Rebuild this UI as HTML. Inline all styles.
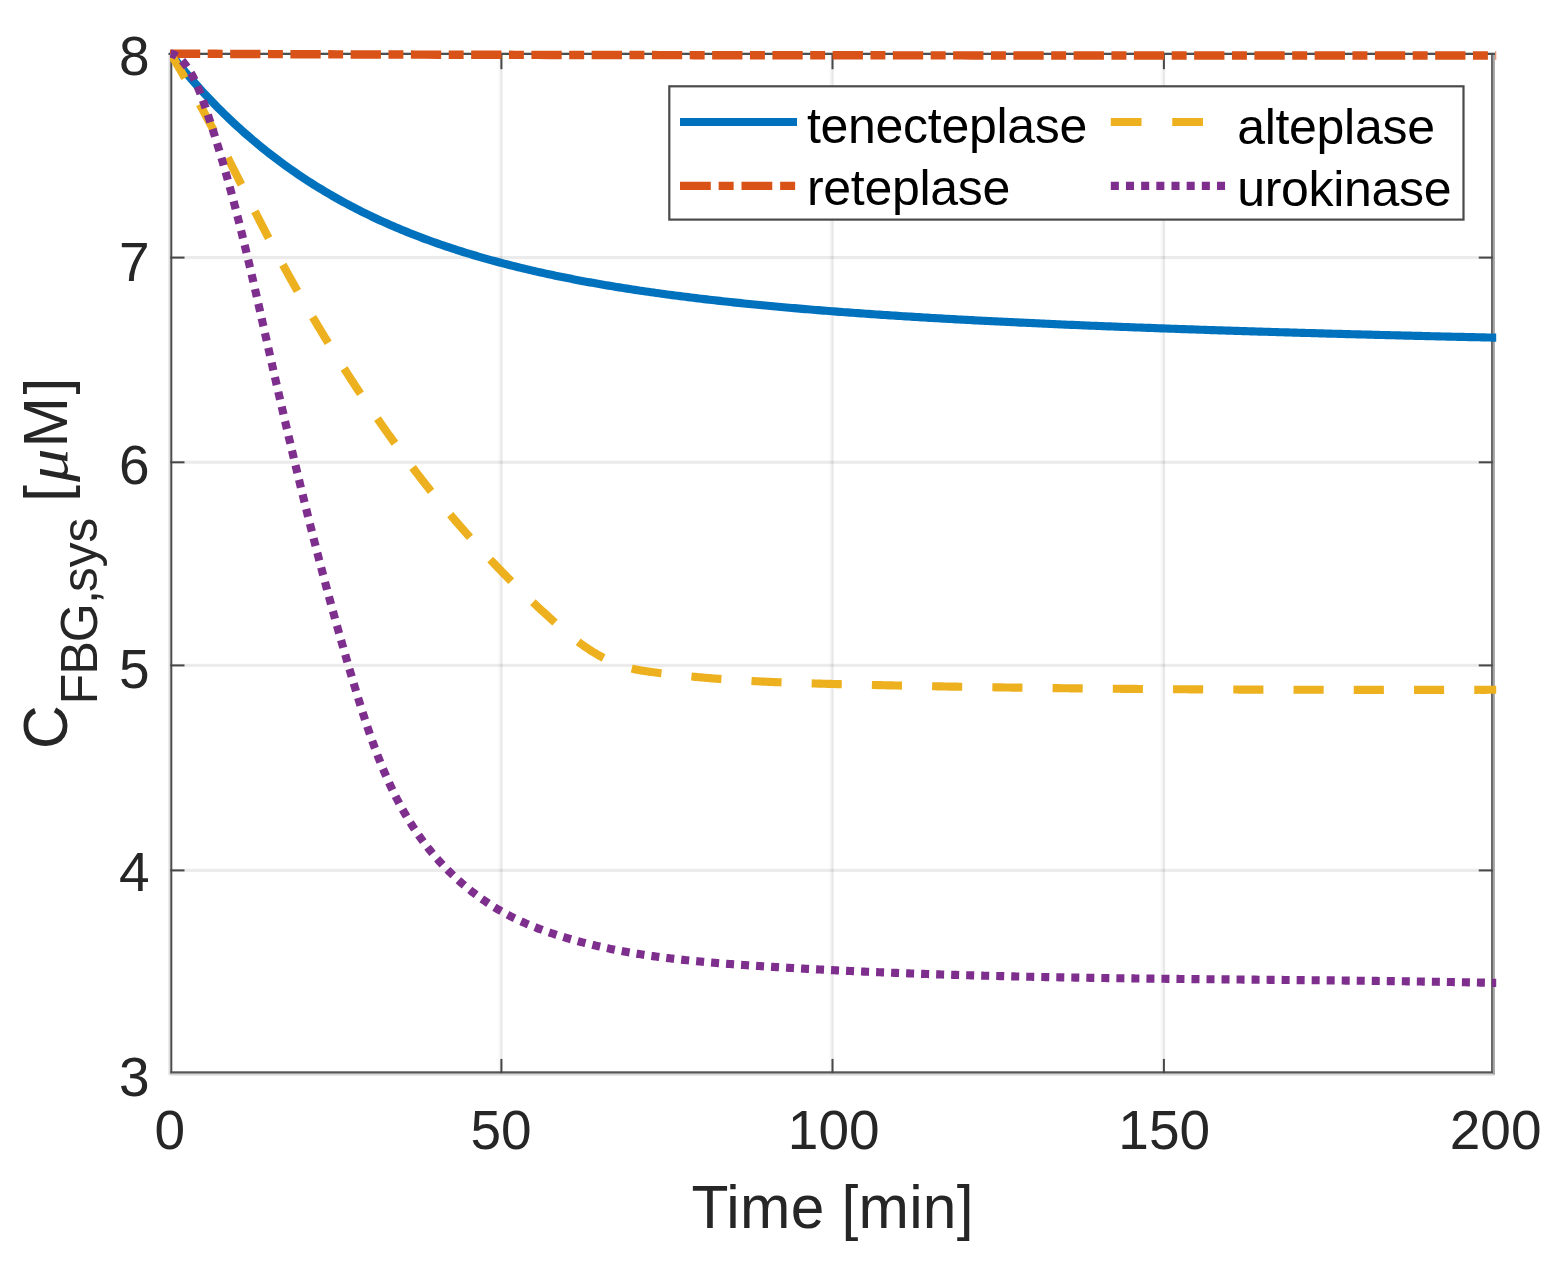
<!DOCTYPE html>
<html lang="en">
<head>
<meta charset="utf-8">
<title>Fibrinogen concentration</title>
<style>html,body{margin:0;padding:0;background:#fff}svg{display:block}#w{width:1560px;height:1265px;overflow:hidden}text{font-family:"Liberation Sans",Arial,Helvetica,sans-serif}</style>
</head>
<body>
<div id="w">
<svg width="1560" height="1265" viewBox="0 0 1560 1265">
<rect width="1560" height="1265" fill="#fff"/>
<defs><clipPath id="c"><rect x="170" y="40" width="1326.4" height="1040"/></clipPath></defs>
<g fill="#000">
<rect x="500.25" y="55.0" width="2.3" height="1018.10" fill-opacity="0.09"/>
<rect x="498.20" y="55.0" width="2.05" height="1018.10" fill-opacity="0.028"/>
<rect x="831.35" y="55.0" width="2.3" height="1018.10" fill-opacity="0.09"/>
<rect x="829.30" y="55.0" width="2.05" height="1018.10" fill-opacity="0.028"/>
<rect x="1162.75" y="55.0" width="2.3" height="1018.10" fill-opacity="0.09"/>
<rect x="1160.70" y="55.0" width="2.05" height="1018.10" fill-opacity="0.028"/>
<rect x="170.3" y="868.80" width="1322.65" height="3.1" fill-opacity="0.08"/>
<rect x="170.3" y="663.80" width="1322.65" height="3.1" fill-opacity="0.08"/>
<rect x="170.3" y="460.70" width="1322.65" height="3.1" fill-opacity="0.08"/>
<rect x="170.3" y="256.00" width="1322.65" height="3.1" fill-opacity="0.08"/>
</g>
<rect x="168.5" y="53.2" width="1.8" height="1021.80" fill="#dcdcdc"/>
<rect x="1492.95" y="53.2" width="1.95" height="1021.80" fill="#a4a4a4"/>
<rect x="170.3" y="1073.1" width="1324.60" height="1.2" fill="#9a9a9a"/>
<rect x="170.3" y="1074.3" width="1324.60" height="1.2" fill="#d4d4d4"/>
<rect x="170.3" y="53.2" width="2.0" height="1019.90" fill="#4c4c4c"/>
<rect x="1491.00" y="53.2" width="1.95" height="1019.90" fill="#666"/>
<rect x="170.3" y="1071.3" width="1322.65" height="1.8" fill="#555"/>
<rect x="168.5" y="52.7" width="1326.40" height="2.3" fill="#4a4f52"/>
<g fill="#484848">
<rect x="500.40" y="1058.90" width="2.0" height="14.2"/>
<rect x="500.40" y="55.0" width="2.0" height="14.2"/>
<rect x="831.50" y="1058.90" width="2.0" height="14.2"/>
<rect x="831.50" y="55.0" width="2.0" height="14.2"/>
<rect x="1162.90" y="1058.90" width="2.0" height="14.2"/>
<rect x="1162.90" y="55.0" width="2.0" height="14.2"/>
<rect x="170.3" y="869.40" width="14.2" height="2.0"/>
<rect x="1478.75" y="869.40" width="14.2" height="2.0"/>
<rect x="170.3" y="664.40" width="14.2" height="2.0"/>
<rect x="1478.75" y="664.40" width="14.2" height="2.0"/>
<rect x="170.3" y="461.30" width="14.2" height="2.0"/>
<rect x="1478.75" y="461.30" width="14.2" height="2.0"/>
<rect x="170.3" y="256.60" width="14.2" height="2.0"/>
<rect x="1478.75" y="256.60" width="14.2" height="2.0"/>
</g>
<g fill="none" stroke-width="8.15" stroke-linejoin="round" clip-path="url(#c)">
<path d="M170.50,53.70 L173.15,57.08 L175.81,60.41 L178.46,63.69 L181.12,66.93 L183.77,70.13 L186.43,73.29 L189.08,76.41 L191.74,79.48 L194.39,82.51 L197.05,85.50 L199.70,88.46 L202.35,91.37 L205.01,94.25 L207.66,97.08 L210.32,99.88 L212.97,102.64 L215.63,105.37 L218.28,108.06 L220.94,110.72 L223.59,113.34 L226.24,115.92 L228.90,118.47 L231.55,120.99 L234.21,123.47 L236.86,125.93 L239.52,128.35 L242.17,130.73 L244.83,133.09 L247.48,135.42 L250.14,137.71 L252.79,139.98 L255.44,142.22 L258.10,144.42 L260.75,146.60 L263.41,148.75 L266.06,150.87 L268.72,152.97 L271.37,155.03 L274.03,157.07 L276.68,159.09 L279.33,161.08 L281.99,163.04 L284.64,164.97 L287.30,166.89 L289.95,168.77 L292.61,170.64 L295.26,172.47 L297.92,174.29 L300.57,176.08 L303.23,177.85 L305.88,179.60 L308.53,181.32 L311.19,183.02 L313.84,184.70 L316.50,186.36 L319.15,188.00 L321.81,189.61 L324.46,191.21 L327.12,192.78 L329.77,194.34 L332.43,195.87 L335.08,197.39 L337.73,198.89 L340.39,200.36 L343.04,201.82 L345.70,203.26 L348.35,204.69 L351.01,206.09 L353.66,207.48 L356.32,208.85 L358.97,210.20 L361.62,211.54 L364.28,212.85 L366.93,214.16 L369.59,215.44 L372.24,216.71 L374.90,217.97 L377.55,219.21 L380.21,220.43 L382.86,221.64 L385.52,222.83 L388.17,224.01 L390.82,225.17 L393.48,226.32 L396.13,227.45 L398.79,228.58 L401.44,229.68 L404.10,230.78 L406.75,231.86 L409.41,232.92 L412.06,233.98 L414.71,235.02 L417.37,236.05 L420.02,237.06 L422.68,238.07 L425.33,239.06 L427.99,240.04 L430.64,241.00 L433.30,241.96 L435.95,242.90 L438.61,243.84 L441.26,244.76 L443.91,245.67 L446.57,246.57 L449.22,247.46 L451.88,248.33 L454.53,249.20 L457.19,250.06 L459.84,250.91 L462.50,251.74 L465.15,252.57 L467.81,253.39 L470.46,254.19 L473.11,254.99 L475.77,255.78 L478.42,256.56 L481.08,257.33 L483.73,258.09 L486.39,258.85 L489.04,259.59 L491.70,260.32 L494.35,261.05 L497.00,261.77 L499.66,262.48 L502.31,263.18 L504.97,263.87 L507.62,264.56 L510.28,265.24 L512.93,265.91 L515.59,266.57 L518.24,267.22 L520.90,267.87 L523.55,268.51 L526.20,269.14 L528.86,269.77 L531.51,270.38 L534.17,271.00 L536.82,271.60 L539.48,272.20 L542.13,272.79 L544.79,273.37 L547.44,273.95 L550.09,274.52 L552.75,275.09 L555.40,275.65 L558.06,276.20 L560.71,276.74 L563.37,277.29 L566.02,277.82 L568.68,278.35 L571.33,278.87 L573.99,279.39 L576.64,279.90 L579.29,280.41 L581.95,280.91 L584.60,281.40 L587.26,281.89 L589.91,282.38 L592.57,282.85 L595.22,283.33 L597.88,283.80 L600.53,284.26 L603.18,284.72 L605.84,285.18 L608.49,285.62 L611.15,286.07 L613.80,286.51 L616.46,286.94 L619.11,287.38 L621.77,287.80 L624.42,288.22 L627.08,288.64 L629.73,289.06 L632.38,289.46 L635.04,289.87 L637.69,290.27 L640.35,290.67 L643.00,291.06 L645.66,291.45 L648.31,291.83 L650.97,292.21 L653.62,292.59 L656.28,292.96 L658.93,293.33 L661.58,293.70 L664.24,294.06 L666.89,294.42 L669.55,294.77 L672.20,295.12 L674.86,295.47 L677.51,295.82 L680.17,296.16 L682.82,296.50 L685.47,296.83 L688.13,297.16 L690.78,297.49 L693.44,297.82 L696.09,298.14 L698.75,298.46 L701.40,298.77 L704.06,299.08 L706.71,299.39 L709.37,299.70 L712.02,300.01 L714.67,300.31 L717.33,300.60 L719.98,300.90 L722.64,301.19 L725.29,301.48 L727.95,301.77 L730.60,302.06 L733.26,302.34 L735.91,302.62 L738.56,302.89 L741.22,303.17 L743.87,303.44 L746.53,303.71 L749.18,303.98 L751.84,304.24 L754.49,304.50 L757.15,304.76 L759.80,305.02 L762.46,305.28 L765.11,305.53 L767.76,305.78 L770.42,306.03 L773.07,306.28 L775.73,306.52 L778.38,306.76 L781.04,307.01 L783.69,307.24 L786.35,307.48 L789.00,307.71 L791.66,307.95 L794.31,308.18 L796.96,308.41 L799.62,308.63 L802.27,308.86 L804.93,309.08 L807.58,309.30 L810.24,309.52 L812.89,309.74 L815.55,309.95 L818.20,310.17 L820.85,310.38 L823.51,310.59 L826.16,310.80 L828.82,311.00 L831.47,311.21 L834.13,311.41 L836.78,311.62 L839.44,311.82 L842.09,312.02 L844.75,312.21 L847.40,312.41 L850.05,312.60 L852.71,312.80 L855.36,312.99 L858.02,313.18 L860.67,313.37 L863.33,313.55 L865.98,313.74 L868.64,313.92 L871.29,314.10 L873.94,314.29 L876.60,314.47 L879.25,314.65 L881.91,314.82 L884.56,315.00 L887.22,315.17 L889.87,315.35 L892.53,315.52 L895.18,315.69 L897.84,315.86 L900.49,316.03 L903.14,316.20 L905.80,316.36 L908.45,316.53 L911.11,316.69 L913.76,316.85 L916.42,317.02 L919.07,317.18 L921.73,317.34 L924.38,317.49 L927.04,317.65 L929.69,317.81 L932.34,317.96 L935.00,318.12 L937.65,318.27 L940.31,318.42 L942.96,318.57 L945.62,318.72 L948.27,318.87 L950.93,319.02 L953.58,319.17 L956.23,319.31 L958.89,319.46 L961.54,319.60 L964.20,319.75 L966.85,319.89 L969.51,320.03 L972.16,320.17 L974.82,320.31 L977.47,320.45 L980.13,320.59 L982.78,320.72 L985.43,320.86 L988.09,320.99 L990.74,321.13 L993.40,321.26 L996.05,321.40 L998.71,321.53 L1001.36,321.66 L1004.02,321.79 L1006.67,321.92 L1009.32,322.05 L1011.98,322.18 L1014.63,322.30 L1017.29,322.43 L1019.94,322.56 L1022.60,322.68 L1025.25,322.80 L1027.91,322.93 L1030.56,323.05 L1033.22,323.17 L1035.87,323.29 L1038.52,323.42 L1041.18,323.54 L1043.83,323.66 L1046.49,323.77 L1049.14,323.89 L1051.80,324.01 L1054.45,324.13 L1057.11,324.24 L1059.76,324.36 L1062.42,324.47 L1065.07,324.59 L1067.72,324.70 L1070.38,324.81 L1073.03,324.93 L1075.69,325.04 L1078.34,325.15 L1081.00,325.26 L1083.65,325.37 L1086.31,325.48 L1088.96,325.59 L1091.61,325.70 L1094.27,325.80 L1096.92,325.91 L1099.58,326.02 L1102.23,326.12 L1104.89,326.23 L1107.54,326.33 L1110.20,326.44 L1112.85,326.54 L1115.51,326.65 L1118.16,326.75 L1120.81,326.85 L1123.47,326.95 L1126.12,327.05 L1128.78,327.16 L1131.43,327.26 L1134.09,327.36 L1136.74,327.46 L1139.40,327.55 L1142.05,327.65 L1144.70,327.75 L1147.36,327.85 L1150.01,327.94 L1152.67,328.04 L1155.32,328.14 L1157.98,328.23 L1160.63,328.33 L1163.29,328.42 L1165.94,328.52 L1168.60,328.61 L1171.25,328.70 L1173.90,328.80 L1176.56,328.89 L1179.21,328.98 L1181.87,329.07 L1184.52,329.16 L1187.18,329.26 L1189.83,329.35 L1192.49,329.44 L1195.14,329.53 L1197.79,329.62 L1200.45,329.70 L1203.10,329.79 L1205.76,329.88 L1208.41,329.97 L1211.07,330.06 L1213.72,330.14 L1216.38,330.23 L1219.03,330.31 L1221.69,330.40 L1224.34,330.49 L1226.99,330.57 L1229.65,330.66 L1232.30,330.74 L1234.96,330.82 L1237.61,330.91 L1240.27,330.99 L1242.92,331.07 L1245.58,331.16 L1248.23,331.24 L1250.89,331.32 L1253.54,331.40 L1256.19,331.48 L1258.85,331.56 L1261.50,331.64 L1264.16,331.72 L1266.81,331.80 L1269.47,331.88 L1272.12,331.96 L1274.78,332.04 L1277.43,332.12 L1280.08,332.20 L1282.74,332.28 L1285.39,332.35 L1288.05,332.43 L1290.70,332.51 L1293.36,332.59 L1296.01,332.66 L1298.67,332.74 L1301.32,332.81 L1303.98,332.89 L1306.63,332.96 L1309.28,333.04 L1311.94,333.11 L1314.59,333.19 L1317.25,333.26 L1319.90,333.34 L1322.56,333.41 L1325.21,333.48 L1327.87,333.56 L1330.52,333.63 L1333.17,333.70 L1335.83,333.77 L1338.48,333.84 L1341.14,333.92 L1343.79,333.99 L1346.45,334.06 L1349.10,334.13 L1351.76,334.20 L1354.41,334.27 L1357.07,334.34 L1359.72,334.41 L1362.37,334.48 L1365.03,334.55 L1367.68,334.62 L1370.34,334.69 L1372.99,334.75 L1375.65,334.82 L1378.30,334.89 L1380.96,334.96 L1383.61,335.02 L1386.27,335.09 L1388.92,335.16 L1391.57,335.23 L1394.23,335.29 L1396.88,335.36 L1399.54,335.42 L1402.19,335.49 L1404.85,335.56 L1407.50,335.62 L1410.16,335.69 L1412.81,335.75 L1415.46,335.82 L1418.12,335.88 L1420.77,335.94 L1423.43,336.01 L1426.08,336.07 L1428.74,336.14 L1431.39,336.20 L1434.05,336.26 L1436.70,336.32 L1439.36,336.39 L1442.01,336.45 L1444.66,336.51 L1447.32,336.57 L1449.97,336.64 L1452.63,336.70 L1455.28,336.76 L1457.94,336.82 L1460.59,336.88 L1463.25,336.94 L1465.90,337.00 L1468.55,337.06 L1471.21,337.12 L1473.86,337.18 L1476.52,337.24 L1479.17,337.30 L1481.83,337.36 L1484.48,337.42 L1487.14,337.48 L1489.79,337.54 L1492.45,337.60 L1495.10,337.65 L1496.50,337.65" stroke="#0072BD"/>
<path d="M169.90,53.60 L181.05,53.66 L192.20,53.72 L203.34,53.78 L214.49,53.84 L225.64,53.89 L236.79,53.95 L247.94,54.00 L259.08,54.05 L270.23,54.10 L281.38,54.14 L292.53,54.19 L303.67,54.23 L314.82,54.28 L325.97,54.32 L337.12,54.36 L348.27,54.40 L359.41,54.43 L370.56,54.47 L381.71,54.51 L392.86,54.54 L404.01,54.57 L415.15,54.61 L426.30,54.64 L437.45,54.67 L448.60,54.70 L459.75,54.72 L470.89,54.75 L482.04,54.78 L493.19,54.80 L504.34,54.83 L515.48,54.85 L526.63,54.88 L537.78,54.90 L548.93,54.92 L560.08,54.94 L571.22,54.96 L582.37,54.98 L593.52,55.00 L604.67,55.02 L615.82,55.04 L626.96,55.06 L638.11,55.07 L649.26,55.09 L660.41,55.11 L671.56,55.12 L682.70,55.14 L693.85,55.15 L705.00,55.17 L716.15,55.18 L727.29,55.19 L738.44,55.21 L749.59,55.22 L760.74,55.23 L771.89,55.24 L783.03,55.25 L794.18,55.26 L805.33,55.27 L816.48,55.28 L827.63,55.29 L838.77,55.30 L849.92,55.31 L861.07,55.32 L872.22,55.33 L883.37,55.34 L894.51,55.35 L905.66,55.36 L916.81,55.36 L927.96,55.37 L939.11,55.38 L950.25,55.38 L961.40,55.39 L972.55,55.40 L983.70,55.40 L994.84,55.41 L1005.99,55.42 L1017.14,55.42 L1028.29,55.43 L1039.44,55.43 L1050.58,55.44 L1061.73,55.44 L1072.88,55.45 L1084.03,55.45 L1095.18,55.46 L1106.32,55.46 L1117.47,55.47 L1128.62,55.47 L1139.77,55.47 L1150.92,55.48 L1162.06,55.48 L1173.21,55.49 L1184.36,55.49 L1195.51,55.49 L1206.65,55.50 L1217.80,55.50 L1228.95,55.50 L1240.10,55.51 L1251.25,55.51 L1262.39,55.51 L1273.54,55.51 L1284.69,55.52 L1295.84,55.52 L1306.99,55.52 L1318.13,55.52 L1329.28,55.53 L1340.43,55.53 L1351.58,55.53 L1362.73,55.53 L1373.87,55.54 L1385.02,55.54 L1396.17,55.54 L1407.32,55.54 L1418.46,55.54 L1429.61,55.55 L1440.76,55.55 L1451.91,55.55 L1463.06,55.55 L1474.20,55.55 L1485.35,55.55 L1496.50,55.55" stroke="#D95319" stroke-width="8.45" stroke-dasharray="30.3 7.5 14.95 7.5"/>
<path d="M170.50,53.60 L171.46,55.16 L172.41,56.72 L173.36,58.29 L174.31,59.85 L175.25,61.42 L176.19,62.99 L177.13,64.56 L178.07,66.14 L179.00,67.71 L179.93,69.29 L180.86,70.87 L181.78,72.45 L182.70,74.03 L183.62,75.61 L184.54,77.20 L185.45,78.78 L186.36,80.37 L187.27,81.96 L188.18,83.55 L189.08,85.14 L189.99,86.73 L190.89,88.33 L191.78,89.92 L192.68,91.52 L193.57,93.12 L194.46,94.72 L195.35,96.32 L196.23,97.92 L197.12,99.52 L198.00,101.13 L198.88,102.73 L199.75,104.34 L200.63,105.95 L201.50,107.56 L202.37,109.17 L203.24,110.78 L204.11,112.39 L204.98,114.00 L205.84,115.62 L206.70,117.23 L207.56,118.85 L208.42,120.46 L209.28,122.08 L210.13,123.70 L210.99,125.32 L211.84,126.94 L212.69,128.56 L213.54,130.18 L214.39,131.80 L215.24,133.43 L216.08,135.05 L216.93,136.67 L217.77,138.30 L218.61,139.92 L219.45,141.55 L220.29,143.18 L221.13,144.80 L221.97,146.43 L222.80,148.06 L223.64,149.69 L224.47,151.32 L225.31,152.95 L226.14,154.58 L226.97,156.21 L227.80,157.84 L228.63,159.47 L229.46,161.10 L230.29,162.73 L231.12,164.37 L231.95,166.00 L232.78,167.63 L233.60,169.26 L234.43,170.90 L235.26,172.53 L236.08,174.16 L236.91,175.80 L237.73,177.43 L238.56,179.07 L239.38,180.70 L240.21,182.33 L241.03,183.97 L241.86,185.60 L242.68,187.24 L243.51,188.87 L244.33,190.50 L245.16,192.14 L245.98,193.77 L246.81,195.41 L247.64,197.04 L248.46,198.67 L249.29,200.31 L250.11,201.94 L250.94,203.57 L251.77,205.20 L252.60,206.84 L253.43,208.47 L254.26,210.10 L255.09,211.73 L255.92,213.36 L256.75,214.99 L257.58,216.62 L258.42,218.25 L259.25,219.88 L260.09,221.51 L260.92,223.14 L261.76,224.77 L262.60,226.40 L263.44,228.02 L264.28,229.65 L265.12,231.27 L265.96,232.90 L266.81,234.52 L267.65,236.15 L268.50,237.77 L269.35,239.39 L270.19,241.01 L271.05,242.63 L271.90,244.25 L272.75,245.87 L273.61,247.49 L274.46,249.11 L275.32,250.73 L276.18,252.34 L277.05,253.96 L277.91,255.57 L278.78,257.18 L279.64,258.79 L280.51,260.41 L281.38,262.02 L282.26,263.62 L283.13,265.23 L284.01,266.84 L284.89,268.44 L285.77,270.05 L286.65,271.65 L287.54,273.25 L288.43,274.86 L289.32,276.46 L290.21,278.05 L291.10,279.65 L291.99,281.25 L292.89,282.85 L293.79,284.44 L294.69,286.03 L295.59,287.63 L296.49,289.22 L297.40,290.81 L298.31,292.40 L299.21,293.99 L300.12,295.58 L301.04,297.16 L301.95,298.75 L302.87,300.34 L303.78,301.92 L304.70,303.50 L305.62,305.09 L306.54,306.67 L307.47,308.25 L308.39,309.83 L309.32,311.41 L310.25,312.98 L311.18,314.56 L312.11,316.14 L313.04,317.71 L313.97,319.29 L314.91,320.86 L315.85,322.43 L316.78,324.00 L317.72,325.57 L318.66,327.15 L319.61,328.71 L320.55,330.28 L321.50,331.85 L322.44,333.42 L323.39,334.98 L324.34,336.55 L325.29,338.11 L326.24,339.68 L327.19,341.24 L328.15,342.80 L329.10,344.36 L330.06,345.92 L331.02,347.48 L331.98,349.04 L332.94,350.60 L333.90,352.16 L334.86,353.72 L335.83,355.27 L336.79,356.83 L337.76,358.38 L338.73,359.93 L339.70,361.48 L340.67,363.04 L341.65,364.59 L342.62,366.13 L343.60,367.68 L344.58,369.23 L345.56,370.77 L346.55,372.32 L347.53,373.86 L348.52,375.40 L349.51,376.94 L350.50,378.48 L351.49,380.02 L352.48,381.56 L353.48,383.09 L354.48,384.63 L355.48,386.16 L356.48,387.69 L357.49,389.22 L358.50,390.75 L359.51,392.27 L360.52,393.80 L361.53,395.32 L362.55,396.85 L363.57,398.37 L364.59,399.89 L365.61,401.40 L366.63,402.92 L367.66,404.44 L368.69,405.95 L369.72,407.46 L370.75,408.97 L371.79,410.48 L372.83,411.99 L373.86,413.50 L374.91,415.01 L375.95,416.51 L376.99,418.02 L378.04,419.52 L379.08,421.02 L380.13,422.52 L381.18,424.02 L382.23,425.52 L383.29,427.01 L384.34,428.51 L385.40,430.01 L386.45,431.50 L387.51,432.99 L388.57,434.49 L389.63,435.98 L390.70,437.47 L391.76,438.96 L392.83,440.45 L393.89,441.93 L394.96,443.42 L396.03,444.91 L397.10,446.39 L398.17,447.88 L399.24,449.36 L400.31,450.85 L401.39,452.33 L402.47,453.81 L403.54,455.29 L404.63,456.76 L405.71,458.24 L406.79,459.71 L407.88,461.18 L408.97,462.66 L410.06,464.12 L411.16,465.59 L412.26,467.06 L413.36,468.52 L414.46,469.98 L415.57,471.44 L416.68,472.89 L417.79,474.35 L418.90,475.80 L420.02,477.25 L421.14,478.70 L422.26,480.14 L423.39,481.59 L424.52,483.03 L425.65,484.47 L426.78,485.91 L427.91,487.34 L429.05,488.78 L430.19,490.21 L431.34,491.64 L432.48,493.07 L433.63,494.49 L434.78,495.92 L435.93,497.34 L437.09,498.76 L438.24,500.18 L439.40,501.59 L440.56,503.01 L441.73,504.42 L442.90,505.83 L444.06,507.24 L445.24,508.65 L446.41,510.05 L447.58,511.45 L448.76,512.86 L449.94,514.26 L451.12,515.65 L452.31,517.05 L453.49,518.44 L454.68,519.84 L455.87,521.23 L457.07,522.62 L458.26,524.00 L459.46,525.39 L460.66,526.77 L461.86,528.15 L463.06,529.53 L464.27,530.91 L465.48,532.28 L466.69,533.66 L467.90,535.03 L469.11,536.40 L470.33,537.76 L471.55,539.13 L472.77,540.49 L473.99,541.85 L475.22,543.21 L476.45,544.57 L477.68,545.93 L478.91,547.28 L480.15,548.63 L481.38,549.98 L482.62,551.33 L483.86,552.67 L485.11,554.01 L486.35,555.36 L487.60,556.69 L488.85,558.03 L490.11,559.37 L491.36,560.70 L492.62,562.03 L493.88,563.36 L495.14,564.68 L496.41,566.00 L497.67,567.33 L498.94,568.65 L500.21,569.96 L501.49,571.28 L502.76,572.59 L504.04,573.90 L505.32,575.21 L506.60,576.51 L507.89,577.82 L509.18,579.12 L510.47,580.42 L511.76,581.71 L513.05,583.01 L514.35,584.30 L515.65,585.59 L516.95,586.88 L518.26,588.16 L519.56,589.44 L520.87,590.72 L522.18,592.00 L523.49,593.28 L524.81,594.55 L526.13,595.82 L527.45,597.09 L528.77,598.35 L530.09,599.62 L531.42,600.88 L532.75,602.14 L534.08,603.39 L535.42,604.65 L536.75,605.90 L538.09,607.14 L539.43,608.39 L540.78,609.63 L542.12,610.87 L543.47,612.11 L544.82,613.35 L546.18,614.58 L547.53,615.81 L548.89,617.04 L550.25,618.26 L551.61,619.48 L552.98,620.70 L554.35,621.92 L555.72,623.14 L557.09,624.35 L558.46,625.55 L559.84,626.76 L561.22,627.96 L562.61,629.15 L564.00,630.34 L565.40,631.53 L566.80,632.70 L568.21,633.87 L569.62,635.04 L571.04,636.19 L572.47,637.34 L573.90,638.47 L575.35,639.60 L576.80,640.72 L578.25,641.83 L579.72,642.92 L581.20,644.00 L582.68,645.07 L584.18,646.13 L585.68,647.17 L587.19,648.20 L588.72,649.22 L590.25,650.22 L591.80,651.20 L593.35,652.16 L594.92,653.11 L596.50,654.04 L598.08,654.95 L599.68,655.84 L601.29,656.71 L602.91,657.56 L604.54,658.39 L606.19,659.20 L607.84,659.99 L609.50,660.76 L611.17,661.50 L612.86,662.22 L614.55,662.92 L616.25,663.59 L617.96,664.25 L619.68,664.87 L621.41,665.48 L623.14,666.06 L624.89,666.61 L626.64,667.14 L628.40,667.65 L630.17,668.13 L631.94,668.58 L633.72,669.00 L635.51,669.40 L637.30,669.77 L639.10,670.12 L640.90,670.45 L642.70,670.76 L644.51,671.05 L646.32,671.33 L648.13,671.59 L649.94,671.84 L651.76,672.08 L653.57,672.31 L655.39,672.53 L657.21,672.75 L659.03,672.96 L660.85,673.18 L662.66,673.39 L664.48,673.60 L666.30,673.81 L668.12,674.01 L669.94,674.22 L671.76,674.43 L673.58,674.63 L675.40,674.83 L677.22,675.03 L679.04,675.23 L680.86,675.42 L682.68,675.62 L684.50,675.81 L686.32,675.99 L688.14,676.18 L689.96,676.36 L691.78,676.54 L693.60,676.72 L695.43,676.89 L697.25,677.06 L699.07,677.23 L700.89,677.40 L702.72,677.56 L704.54,677.72 L706.36,677.88 L708.19,678.03 L710.01,678.18 L711.84,678.33 L713.66,678.48 L715.49,678.62 L717.31,678.76 L719.14,678.90 L720.96,679.04 L722.79,679.17 L724.61,679.30 L726.44,679.43 L728.27,679.56 L730.09,679.68 L731.92,679.81 L733.74,679.93 L735.57,680.04 L737.40,680.16 L739.23,680.27 L741.05,680.38 L742.88,680.49 L744.71,680.60 L746.53,680.71 L748.36,680.81 L750.19,680.91 L752.02,681.01 L753.85,681.11 L755.67,681.20 L757.50,681.30 L759.33,681.39 L761.16,681.48 L762.99,681.57 L764.81,681.65 L766.64,681.74 L768.47,681.82 L770.30,681.90 L772.13,681.98 L773.96,682.06 L775.79,682.14 L777.62,682.22 L779.45,682.29 L781.27,682.36 L783.10,682.44 L784.93,682.51 L786.76,682.57 L788.59,682.64 L790.42,682.71 L792.25,682.77 L794.08,682.84 L795.91,682.90 L797.74,682.96 L799.57,683.03 L801.40,683.09 L803.23,683.15 L805.06,683.20 L806.89,683.26 L808.72,683.32 L810.54,683.37 L812.37,683.43 L814.20,683.48 L816.03,683.54 L817.86,683.59 L819.69,683.64 L821.52,683.69 L823.35,683.74 L825.18,683.79 L827.01,683.84 L828.84,683.89 L830.67,683.94 L832.50,683.99 L834.33,684.04 L836.16,684.08 L837.99,684.13 L839.82,684.18 L841.65,684.22 L843.48,684.27 L845.31,684.32 L847.14,684.36 L848.97,684.41 L850.80,684.45 L852.63,684.50 L854.46,684.54 L856.29,684.59 L858.12,684.63 L859.95,684.68 L861.78,684.72 L863.61,684.76 L865.44,684.81 L867.27,684.85 L869.10,684.89 L870.93,684.94 L872.76,684.98 L874.59,685.02 L876.42,685.06 L878.25,685.10 L880.08,685.15 L881.91,685.19 L883.74,685.23 L885.57,685.27 L887.40,685.31 L889.23,685.35 L891.06,685.39 L892.89,685.43 L894.72,685.47 L896.55,685.51 L898.38,685.55 L900.21,685.59 L902.04,685.63 L903.87,685.67 L905.70,685.70 L907.53,685.74 L909.36,685.78 L911.19,685.82 L913.02,685.85 L914.85,685.89 L916.68,685.93 L918.51,685.97 L920.34,686.00 L922.17,686.04 L924.00,686.07 L925.83,686.11 L927.66,686.15 L929.49,686.18 L931.32,686.22 L933.15,686.25 L934.98,686.29 L936.81,686.32 L938.65,686.36 L940.48,686.39 L942.31,686.42 L944.14,686.46 L945.97,686.49 L947.80,686.52 L949.63,686.56 L951.46,686.59 L953.29,686.62 L955.12,686.66 L956.95,686.69 L958.78,686.72 L960.61,686.75 L962.44,686.78 L964.27,686.82 L966.10,686.85 L967.93,686.88 L969.76,686.91 L971.59,686.94 L973.42,686.97 L975.25,687.00 L977.08,687.03 L978.91,687.06 L980.74,687.09 L982.57,687.12 L984.40,687.15 L986.23,687.18 L988.06,687.21 L989.89,687.23 L991.72,687.26 L993.55,687.29 L995.38,687.32 L997.21,687.35 L999.04,687.37 L1000.87,687.40 L1002.70,687.43 L1004.53,687.46 L1006.36,687.48 L1008.19,687.51 L1010.03,687.54 L1011.86,687.56 L1013.69,687.59 L1015.52,687.62 L1017.35,687.64 L1019.18,687.67 L1021.01,687.69 L1022.84,687.72 L1024.67,687.74 L1026.50,687.77 L1028.33,687.79 L1030.16,687.82 L1031.99,687.84 L1033.82,687.86 L1035.65,687.89 L1037.48,687.91 L1039.31,687.94 L1041.14,687.96 L1042.97,687.98 L1044.80,688.01 L1046.63,688.03 L1048.46,688.05 L1050.29,688.07 L1052.12,688.10 L1053.95,688.12 L1055.78,688.14 L1057.61,688.16 L1059.44,688.18 L1061.28,688.20 L1063.11,688.23 L1064.94,688.25 L1066.77,688.27 L1068.60,688.29 L1070.43,688.31 L1072.26,688.33 L1074.09,688.35 L1075.92,688.37 L1077.75,688.39 L1079.58,688.41 L1081.41,688.43 L1083.24,688.45 L1085.07,688.47 L1086.90,688.49 L1088.73,688.51 L1090.56,688.52 L1092.39,688.54 L1094.22,688.56 L1096.05,688.58 L1097.88,688.60 L1099.71,688.62 L1101.54,688.63 L1103.37,688.65 L1105.20,688.67 L1107.04,688.69 L1108.87,688.70 L1110.70,688.72 L1112.53,688.74 L1114.36,688.75 L1116.19,688.77 L1118.02,688.79 L1119.85,688.80 L1121.68,688.82 L1123.51,688.84 L1125.34,688.85 L1127.17,688.87 L1129.00,688.88 L1130.83,688.90 L1132.66,688.91 L1134.49,688.93 L1136.32,688.94 L1138.15,688.96 L1139.98,688.97 L1141.81,688.99 L1143.64,689.00 L1145.47,689.01 L1147.31,689.03 L1149.14,689.04 L1150.97,689.06 L1152.80,689.07 L1154.63,689.08 L1156.46,689.10 L1158.29,689.11 L1160.12,689.12 L1161.95,689.14 L1163.78,689.15 L1165.61,689.16 L1167.44,689.17 L1169.27,689.19 L1171.10,689.20 L1172.93,689.21 L1174.76,689.22 L1176.59,689.23 L1178.42,689.25 L1180.25,689.26 L1182.08,689.27 L1183.91,689.28 L1185.74,689.29 L1187.58,689.30 L1189.41,689.31 L1191.24,689.32 L1193.07,689.33 L1194.90,689.34 L1196.73,689.35 L1198.56,689.36 L1200.39,689.37 L1202.22,689.38 L1204.05,689.39 L1205.88,689.40 L1207.71,689.41 L1209.54,689.42 L1211.37,689.43 L1213.20,689.44 L1215.03,689.45 L1216.86,689.46 L1218.69,689.47 L1220.52,689.48 L1222.35,689.49 L1224.19,689.49 L1226.02,689.50 L1227.85,689.51 L1229.68,689.52 L1231.51,689.53 L1233.34,689.54 L1235.17,689.54 L1237.00,689.55 L1238.83,689.56 L1240.66,689.57 L1242.49,689.57 L1244.32,689.58 L1246.15,689.59 L1247.98,689.59 L1249.81,689.60 L1251.64,689.61 L1253.47,689.62 L1255.30,689.62 L1257.13,689.63 L1258.96,689.63 L1260.79,689.64 L1262.63,689.65 L1264.46,689.65 L1266.29,689.66 L1268.12,689.66 L1269.95,689.67 L1271.78,689.68 L1273.61,689.68 L1275.44,689.69 L1277.27,689.69 L1279.10,689.70 L1280.93,689.70 L1282.76,689.71 L1284.59,689.71 L1286.42,689.72 L1288.25,689.72 L1290.08,689.73 L1291.91,689.73 L1293.74,689.74 L1295.57,689.74 L1297.41,689.74 L1299.24,689.75 L1301.07,689.75 L1302.90,689.76 L1304.73,689.76 L1306.56,689.76 L1308.39,689.77 L1310.22,689.77 L1312.05,689.78 L1313.88,689.78 L1315.71,689.78 L1317.54,689.79 L1319.37,689.79 L1321.20,689.79 L1323.03,689.79 L1324.86,689.80 L1326.69,689.80 L1328.52,689.80 L1330.35,689.81 L1332.18,689.81 L1334.02,689.81 L1335.85,689.81 L1337.68,689.82 L1339.51,689.82 L1341.34,689.82 L1343.17,689.82 L1345.00,689.82 L1346.83,689.83 L1348.66,689.83 L1350.49,689.83 L1352.32,689.83 L1354.15,689.83 L1355.98,689.84 L1357.81,689.84 L1359.64,689.84 L1361.47,689.84 L1363.30,689.84 L1365.13,689.84 L1366.96,689.84 L1368.79,689.84 L1370.63,689.85 L1372.46,689.85 L1374.29,689.85 L1376.12,689.85 L1377.95,689.85 L1379.78,689.85 L1381.61,689.85 L1383.44,689.85 L1385.27,689.85 L1387.10,689.85 L1388.93,689.85 L1390.76,689.85 L1392.59,689.85 L1394.42,689.85 L1396.25,689.85 L1398.08,689.85 L1399.91,689.85 L1401.74,689.85 L1403.57,689.85 L1405.41,689.85 L1407.24,689.85 L1409.07,689.85 L1410.90,689.85 L1412.73,689.85 L1414.56,689.85 L1416.39,689.85 L1418.22,689.85 L1420.05,689.85 L1421.88,689.85 L1423.71,689.85 L1425.54,689.85 L1427.37,689.85 L1429.20,689.84 L1431.03,689.84 L1432.86,689.84 L1434.69,689.84 L1436.52,689.84 L1438.35,689.84 L1440.18,689.84 L1442.02,689.84 L1443.85,689.84 L1445.68,689.83 L1447.51,689.83 L1449.34,689.83 L1451.17,689.83 L1453.00,689.83 L1454.83,689.83 L1456.66,689.83 L1458.49,689.82 L1460.32,689.82 L1462.15,689.82 L1463.98,689.82 L1465.81,689.82 L1467.64,689.82 L1469.47,689.81 L1471.30,689.81 L1473.13,689.81 L1474.96,689.81 L1476.79,689.81 L1478.63,689.80 L1480.46,689.80 L1482.29,689.80 L1484.12,689.80 L1485.95,689.80 L1487.78,689.79 L1489.61,689.79 L1491.44,689.79 L1493.27,689.79 L1495.10,689.78 L1496.50,689.78" stroke="#EDB120" stroke-dasharray="30.12 30.12" stroke-dashoffset="1.7"/>
<path d="M170.51,53.59 L171.87,53.85 L173.20,54.24 L174.49,54.76 L175.73,55.39 L176.91,56.12 L178.04,56.93 L179.12,57.80 L180.15,58.73 L181.13,59.71 L182.08,60.72 L183.00,61.77 L183.89,62.83 L184.75,63.92 L185.59,65.03 L186.41,66.14 L187.22,67.28 L188.00,68.42 L188.76,69.58 L189.51,70.75 L190.24,71.94 L190.95,73.13 L191.64,74.33 L192.31,75.55 L192.97,76.77 L193.61,78.00 L194.24,79.24 L194.85,80.48 L195.45,81.74 L196.04,83.00 L196.61,84.26 L197.17,85.53 L197.72,86.81 L198.25,88.09 L198.78,89.37 L199.30,90.66 L199.81,91.95 L200.31,93.25 L200.80,94.55 L201.28,95.85 L201.76,97.15 L202.24,98.46 L202.70,99.76 L203.17,101.07 L203.63,102.38 L204.09,103.69 L204.54,105.00 L204.99,106.32 L205.45,107.63 L205.90,108.94 L206.35,110.26 L206.79,111.57 L207.24,112.89 L207.68,114.20 L208.12,115.52 L208.57,116.83 L209.00,118.15 L209.44,119.47 L209.88,120.79 L210.31,122.11 L210.74,123.43 L211.18,124.75 L211.61,126.07 L212.03,127.39 L212.46,128.71 L212.89,130.03 L213.31,131.35 L213.73,132.67 L214.15,134.00 L214.57,135.32 L214.99,136.65 L215.40,137.97 L215.82,139.30 L216.23,140.62 L216.64,141.95 L217.05,143.27 L217.46,144.60 L217.87,145.93 L218.28,147.26 L218.68,148.58 L219.08,149.91 L219.48,151.24 L219.88,152.57 L220.28,153.90 L220.68,155.23 L221.08,156.56 L221.47,157.89 L221.87,159.22 L222.26,160.56 L222.65,161.89 L223.04,163.22 L223.43,164.56 L223.81,165.89 L224.20,167.22 L224.58,168.56 L224.97,169.89 L225.35,171.23 L225.73,172.56 L226.11,173.90 L226.48,175.23 L226.86,176.57 L227.24,177.91 L227.61,179.24 L227.98,180.58 L228.36,181.92 L228.73,183.26 L229.10,184.59 L229.46,185.93 L229.83,187.27 L230.20,188.61 L230.56,189.95 L230.93,191.29 L231.29,192.63 L231.65,193.97 L232.01,195.31 L232.37,196.65 L232.73,198.00 L233.08,199.34 L233.44,200.68 L233.80,202.02 L234.15,203.36 L234.50,204.71 L234.85,206.05 L235.21,207.39 L235.56,208.74 L235.90,210.08 L236.25,211.43 L236.60,212.77 L236.95,214.11 L237.29,215.46 L237.64,216.80 L237.98,218.15 L238.32,219.49 L238.66,220.84 L239.00,222.19 L239.34,223.53 L239.68,224.88 L240.02,226.23 L240.36,227.57 L240.69,228.92 L241.03,230.27 L241.36,231.61 L241.70,232.96 L242.03,234.31 L242.36,235.66 L242.70,237.01 L243.03,238.35 L243.36,239.70 L243.69,241.05 L244.02,242.40 L244.34,243.75 L244.67,245.10 L245.00,246.45 L245.32,247.80 L245.65,249.15 L245.97,250.50 L246.30,251.85 L246.62,253.20 L246.94,254.55 L247.27,255.90 L247.59,257.25 L247.91,258.60 L248.23,259.95 L248.55,261.30 L248.87,262.65 L249.19,264.01 L249.51,265.36 L249.82,266.71 L250.14,268.06 L250.46,269.41 L250.77,270.76 L251.09,272.12 L251.40,273.47 L251.72,274.82 L252.03,276.17 L252.35,277.53 L252.66,278.88 L252.97,280.23 L253.29,281.58 L253.60,282.94 L253.91,284.29 L254.22,285.64 L254.53,287.00 L254.84,288.35 L255.15,289.70 L255.46,291.06 L255.77,292.41 L256.08,293.76 L256.39,295.12 L256.70,296.47 L257.01,297.82 L257.31,299.18 L257.62,300.53 L257.93,301.89 L258.24,303.24 L258.54,304.59 L258.85,305.95 L259.16,307.30 L259.46,308.66 L259.77,310.01 L260.08,311.37 L260.38,312.72 L260.69,314.07 L260.99,315.43 L261.30,316.78 L261.60,318.14 L261.91,319.49 L262.21,320.85 L262.52,322.20 L262.82,323.56 L263.13,324.91 L263.43,326.26 L263.74,327.62 L264.04,328.97 L264.35,330.33 L264.65,331.68 L264.96,333.04 L265.26,334.39 L265.57,335.75 L265.87,337.10 L266.18,338.46 L266.48,339.81 L266.78,341.17 L267.09,342.52 L267.39,343.87 L267.70,345.23 L268.00,346.58 L268.31,347.94 L268.61,349.29 L268.92,350.65 L269.23,352.00 L269.53,353.36 L269.84,354.71 L270.14,356.06 L270.45,357.42 L270.76,358.77 L271.06,360.13 L271.37,361.48 L271.67,362.84 L271.98,364.19 L272.29,365.54 L272.60,366.90 L272.90,368.25 L273.21,369.61 L273.52,370.96 L273.83,372.31 L274.13,373.67 L274.44,375.02 L274.75,376.38 L275.06,377.73 L275.37,379.08 L275.68,380.44 L275.99,381.79 L276.29,383.14 L276.60,384.50 L276.91,385.85 L277.22,387.20 L277.53,388.56 L277.84,389.91 L278.15,391.26 L278.46,392.62 L278.78,393.97 L279.09,395.32 L279.40,396.68 L279.71,398.03 L280.02,399.38 L280.33,400.74 L280.64,402.09 L280.96,403.44 L281.27,404.79 L281.58,406.15 L281.89,407.50 L282.21,408.85 L282.52,410.21 L282.84,411.56 L283.15,412.91 L283.46,414.26 L283.78,415.62 L284.09,416.97 L284.41,418.32 L284.72,419.67 L285.04,421.02 L285.35,422.38 L285.67,423.73 L285.98,425.08 L286.30,426.43 L286.62,427.78 L286.93,429.14 L287.25,430.49 L287.57,431.84 L287.89,433.19 L288.20,434.54 L288.52,435.89 L288.84,437.25 L289.16,438.60 L289.48,439.95 L289.80,441.30 L290.12,442.65 L290.44,444.00 L290.76,445.35 L291.08,446.70 L291.40,448.06 L291.72,449.41 L292.04,450.76 L292.36,452.11 L292.68,453.46 L293.00,454.81 L293.32,456.16 L293.65,457.51 L293.97,458.86 L294.29,460.21 L294.62,461.56 L294.94,462.91 L295.26,464.26 L295.59,465.61 L295.91,466.96 L296.24,468.31 L296.56,469.66 L296.89,471.01 L297.22,472.36 L297.54,473.71 L297.87,475.06 L298.19,476.41 L298.52,477.76 L298.85,479.11 L299.18,480.46 L299.51,481.81 L299.83,483.15 L300.16,484.50 L300.49,485.85 L300.82,487.20 L301.15,488.55 L301.48,489.90 L301.81,491.25 L302.14,492.60 L302.47,493.94 L302.81,495.29 L303.14,496.64 L303.47,497.99 L303.80,499.34 L304.14,500.68 L304.47,502.03 L304.80,503.38 L305.14,504.73 L305.47,506.07 L305.81,507.42 L306.14,508.77 L306.48,510.12 L306.81,511.46 L307.15,512.81 L307.49,514.16 L307.82,515.50 L308.16,516.85 L308.50,518.20 L308.84,519.55 L309.18,520.89 L309.52,522.24 L309.85,523.58 L310.19,524.93 L310.53,526.28 L310.88,527.62 L311.22,528.97 L311.56,530.31 L311.90,531.66 L312.24,533.01 L312.58,534.35 L312.93,535.70 L313.27,537.04 L313.61,538.39 L313.96,539.73 L314.30,541.08 L314.65,542.42 L314.99,543.77 L315.34,545.11 L315.69,546.46 L316.03,547.80 L316.38,549.14 L316.73,550.49 L317.08,551.83 L317.43,553.18 L317.77,554.52 L318.12,555.86 L318.47,557.21 L318.82,558.55 L319.17,559.90 L319.53,561.24 L319.88,562.58 L320.23,563.92 L320.58,565.27 L320.93,566.61 L321.29,567.95 L321.64,569.30 L322.00,570.64 L322.35,571.98 L322.71,573.32 L323.06,574.66 L323.42,576.01 L323.77,577.35 L324.13,578.69 L324.49,580.03 L324.85,581.37 L325.21,582.71 L325.57,584.06 L325.92,585.40 L326.28,586.74 L326.65,588.08 L327.01,589.42 L327.37,590.76 L327.73,592.10 L328.09,593.44 L328.45,594.78 L328.82,596.12 L329.18,597.46 L329.55,598.80 L329.91,600.14 L330.28,601.48 L330.64,602.82 L331.01,604.16 L331.38,605.50 L331.74,606.84 L332.11,608.18 L332.48,609.51 L332.85,610.85 L333.22,612.19 L333.59,613.53 L333.96,614.87 L334.33,616.21 L334.70,617.54 L335.07,618.88 L335.45,620.22 L335.82,621.56 L336.19,622.89 L336.57,624.23 L336.94,625.57 L337.32,626.90 L337.69,628.24 L338.07,629.58 L338.44,630.91 L338.82,632.25 L339.20,633.59 L339.58,634.92 L339.96,636.26 L340.34,637.59 L340.72,638.93 L341.10,640.26 L341.48,641.60 L341.86,642.93 L342.24,644.27 L342.63,645.60 L343.01,646.94 L343.39,648.27 L343.78,649.61 L344.16,650.94 L344.55,652.27 L344.93,653.61 L345.32,654.94 L345.71,656.27 L346.10,657.61 L346.49,658.94 L346.87,660.27 L347.26,661.61 L347.65,662.94 L348.05,664.27 L348.44,665.60 L348.83,666.93 L349.22,668.27 L349.61,669.60 L350.01,670.93 L350.40,672.26 L350.80,673.59 L351.19,674.92 L351.59,676.25 L351.99,677.58 L352.38,678.91 L352.78,680.24 L353.18,681.57 L353.58,682.90 L353.98,684.23 L354.38,685.56 L354.78,686.89 L355.18,688.22 L355.58,689.55 L355.99,690.88 L356.39,692.21 L356.80,693.54 L357.20,694.86 L357.61,696.19 L358.01,697.52 L358.42,698.85 L358.83,700.17 L359.24,701.50 L359.65,702.82 L360.07,704.15 L360.48,705.48 L360.90,706.80 L361.31,708.13 L361.73,709.45 L362.15,710.77 L362.57,712.10 L362.99,713.42 L363.42,714.74 L363.84,716.06 L364.27,717.38 L364.70,718.70 L365.13,720.02 L365.57,721.34 L366.00,722.66 L366.44,723.98 L366.88,725.30 L367.32,726.61 L367.76,727.93 L368.20,729.24 L368.65,730.56 L369.10,731.87 L369.55,733.19 L370.00,734.50 L370.46,735.81 L370.92,737.12 L371.38,738.43 L371.84,739.74 L372.31,741.05 L372.78,742.35 L373.25,743.66 L373.72,744.96 L374.20,746.27 L374.68,747.57 L375.16,748.87 L375.65,750.17 L376.14,751.47 L376.63,752.77 L377.12,754.07 L377.62,755.37 L378.12,756.66 L378.62,757.95 L379.13,759.25 L379.64,760.54 L380.16,761.83 L380.67,763.12 L381.19,764.40 L381.72,765.69 L382.24,766.97 L382.78,768.26 L383.31,769.54 L383.85,770.82 L384.39,772.10 L384.94,773.37 L385.49,774.65 L386.04,775.92 L386.60,777.19 L387.16,778.46 L387.72,779.73 L388.29,781.00 L388.87,782.26 L389.44,783.52 L390.03,784.78 L390.61,786.04 L391.20,787.30 L391.80,788.55 L392.40,789.81 L393.00,791.06 L393.61,792.31 L394.22,793.55 L394.84,794.80 L395.46,796.04 L396.09,797.28 L396.72,798.51 L397.35,799.75 L397.99,800.98 L398.64,802.21 L399.29,803.44 L399.94,804.66 L400.60,805.88 L401.27,807.10 L401.94,808.32 L402.61,809.53 L403.29,810.74 L403.98,811.95 L404.67,813.15 L405.36,814.36 L406.06,815.55 L406.77,816.75 L407.48,817.94 L408.20,819.13 L408.92,820.32 L409.65,821.50 L410.38,822.68 L411.12,823.86 L411.86,825.03 L412.61,826.20 L413.36,827.36 L414.12,828.53 L414.89,829.68 L415.66,830.84 L416.44,831.99 L417.22,833.14 L418.01,834.28 L418.80,835.42 L419.60,836.55 L420.40,837.69 L421.21,838.81 L422.03,839.94 L422.85,841.06 L423.68,842.17 L424.51,843.28 L425.35,844.39 L426.20,845.49 L427.05,846.59 L427.91,847.68 L428.77,848.77 L429.64,849.85 L430.51,850.93 L431.39,852.00 L432.28,853.07 L433.17,854.14 L434.06,855.20 L434.97,856.25 L435.87,857.30 L436.79,858.35 L437.71,859.39 L438.63,860.42 L439.56,861.45 L440.50,862.48 L441.44,863.50 L442.39,864.52 L443.34,865.53 L444.29,866.53 L445.26,867.53 L446.22,868.53 L447.20,869.52 L448.17,870.51 L449.16,871.49 L450.15,872.46 L451.14,873.43 L452.14,874.40 L453.14,875.36 L454.15,876.31 L455.16,877.26 L456.18,878.20 L457.21,879.14 L458.24,880.07 L459.27,881.00 L460.31,881.92 L461.35,882.84 L462.40,883.75 L463.46,884.65 L464.51,885.55 L465.58,886.44 L466.65,887.33 L467.72,888.21 L468.80,889.08 L469.88,889.95 L470.97,890.82 L472.06,891.67 L473.15,892.53 L474.26,893.37 L475.36,894.21 L476.47,895.04 L477.59,895.87 L478.71,896.69 L479.83,897.50 L480.96,898.31 L482.10,899.11 L483.24,899.91 L484.38,900.69 L485.53,901.48 L486.68,902.25 L487.84,903.02 L489.00,903.78 L490.16,904.53 L491.33,905.28 L492.51,906.02 L493.69,906.76 L494.87,907.48 L496.06,908.20 L497.25,908.91 L498.45,909.62 L499.65,910.31 L500.85,911.00 L502.06,911.69 L503.27,912.36 L504.49,913.03 L505.71,913.69 L506.94,914.35 L508.16,915.00 L509.40,915.64 L510.63,916.27 L511.87,916.90 L513.11,917.52 L514.36,918.13 L515.61,918.74 L516.86,919.34 L518.11,919.93 L519.37,920.52 L520.63,921.10 L521.90,921.67 L523.16,922.24 L524.43,922.80 L525.71,923.36 L526.98,923.91 L528.26,924.45 L529.54,924.99 L530.82,925.52 L532.11,926.04 L533.40,926.56 L534.69,927.07 L535.98,927.58 L537.27,928.08 L538.57,928.58 L539.87,929.07 L541.17,929.56 L542.47,930.04 L543.78,930.51 L545.08,930.98 L546.39,931.45 L547.70,931.91 L549.01,932.36 L549.04,932.37" stroke="#7E2F8E" stroke-dasharray="8.0 7.06" stroke-dashoffset="1.2"/>
<path d="M549.04,932.37 L550.33,932.81 L551.64,933.26 L552.96,933.70 L554.28,934.14 L555.60,934.57 L556.92,934.99 L558.24,935.42 L559.56,935.83 L560.89,936.25 L562.22,936.66 L563.54,937.06 L564.87,937.46 L566.20,937.86 L567.54,938.25 L568.87,938.64 L570.20,939.03 L571.54,939.41 L572.87,939.79 L574.21,940.16 L575.55,940.53 L576.89,940.90 L578.23,941.26 L579.57,941.62 L580.91,941.97 L582.25,942.33 L583.60,942.67 L584.94,943.02 L586.29,943.36 L587.64,943.69 L588.98,944.03 L590.33,944.36 L591.68,944.68 L593.03,945.01 L594.38,945.33 L595.74,945.64 L597.09,945.96 L598.44,946.27 L599.80,946.57 L601.15,946.87 L602.51,947.17 L603.86,947.47 L605.22,947.76 L606.58,948.05 L607.94,948.34 L609.30,948.62 L610.66,948.90 L612.02,949.18 L613.38,949.45 L614.74,949.72 L616.10,949.99 L617.47,950.25 L618.83,950.52 L620.19,950.77 L621.56,951.03 L622.92,951.28 L624.29,951.53 L625.66,951.78 L627.02,952.02 L628.39,952.26 L629.76,952.50 L631.13,952.74 L632.50,952.97 L633.86,953.20 L635.23,953.43 L636.60,953.65 L637.98,953.87 L639.35,954.09 L640.72,954.31 L642.09,954.52 L643.46,954.74 L644.83,954.95 L646.21,955.15 L647.58,955.36 L648.95,955.56 L650.33,955.76 L651.70,955.95 L653.08,956.15 L654.45,956.34 L655.83,956.53 L657.20,956.72 L658.58,956.90 L659.96,957.09 L661.33,957.27 L662.71,957.45 L664.09,957.62 L665.46,957.80 L666.84,957.97 L668.22,958.14 L669.60,958.31 L670.98,958.48 L672.36,958.64 L673.73,958.80 L675.11,958.96 L676.49,959.12 L677.87,959.28 L679.25,959.43 L680.63,959.58 L682.01,959.74 L683.39,959.88 L684.77,960.03 L686.15,960.18 L687.53,960.32 L688.92,960.46 L690.30,960.60 L691.68,960.74 L693.06,960.88 L694.44,961.02 L695.82,961.15 L697.21,961.28 L698.59,961.41 L699.97,961.54 L701.35,961.67 L702.74,961.80 L704.12,961.92 L705.50,962.05 L706.89,962.17 L708.27,962.29 L709.65,962.41 L711.03,962.53 L712.42,962.64 L713.80,962.76 L715.19,962.87 L716.57,962.99 L717.95,963.10 L719.34,963.21 L720.72,963.32 L722.11,963.43 L723.49,963.54 L724.87,963.65 L726.26,963.75 L727.64,963.86 L729.03,963.96 L730.41,964.06 L731.80,964.16 L733.18,964.27 L734.57,964.37 L735.95,964.46 L737.34,964.56 L738.72,964.66 L740.11,964.76 L741.49,964.85 L742.88,964.95 L744.26,965.04 L745.65,965.14 L747.03,965.23 L748.42,965.32 L749.80,965.42 L751.19,965.51 L752.57,965.60 L753.96,965.69 L755.35,965.78 L756.73,965.87 L758.12,965.96 L759.50,966.05 L760.89,966.14 L762.27,966.22 L763.66,966.31 L765.04,966.40 L766.43,966.48 L767.82,966.57 L769.20,966.66 L770.59,966.74 L771.97,966.83 L773.36,966.91 L774.75,967.00 L776.13,967.08 L777.52,967.16 L778.90,967.24 L780.29,967.33 L781.68,967.41 L783.06,967.49 L784.45,967.57 L785.83,967.65 L787.22,967.73 L788.61,967.81 L789.99,967.89 L791.38,967.97 L792.76,968.05 L794.15,968.13 L795.54,968.21 L796.92,968.29 L798.31,968.36 L799.70,968.44 L801.08,968.52 L802.47,968.59 L803.85,968.67 L805.24,968.75 L806.63,968.82 L808.01,968.90 L809.40,968.97 L810.79,969.04 L812.17,969.12 L813.56,969.19 L814.95,969.26 L816.33,969.34 L817.72,969.41 L819.11,969.48 L820.49,969.55 L821.88,969.62 L823.27,969.69 L824.65,969.76 L826.04,969.83 L827.43,969.90 L828.81,969.97 L830.20,970.04 L831.59,970.11 L832.97,970.18 L834.36,970.24 L835.75,970.31 L837.13,970.38 L838.52,970.45 L839.91,970.51 L841.29,970.58 L842.68,970.64 L844.07,970.71 L845.45,970.77 L846.84,970.84 L848.23,970.90 L849.62,970.97 L851.00,971.03 L852.39,971.09 L853.78,971.16 L855.16,971.22 L856.55,971.28 L857.94,971.34 L859.32,971.40 L860.71,971.47 L862.10,971.53 L863.49,971.59 L864.87,971.65 L866.26,971.71 L867.65,971.77 L869.03,971.82 L870.42,971.88 L871.81,971.94 L873.20,972.00 L874.58,972.06 L875.97,972.12 L877.36,972.17 L878.75,972.23 L880.13,972.29 L881.52,972.34 L882.91,972.40 L884.29,972.45 L885.68,972.51 L887.07,972.56 L888.46,972.62 L889.84,972.67 L891.23,972.73 L892.62,972.78 L894.01,972.83 L895.39,972.89 L896.78,972.94 L898.17,972.99 L899.56,973.05 L900.94,973.10 L902.33,973.15 L903.72,973.20 L905.11,973.25 L906.49,973.30 L907.88,973.35 L909.27,973.40 L910.66,973.45 L912.04,973.50 L913.43,973.55 L914.82,973.60 L916.21,973.65 L917.59,973.70 L918.98,973.74 L920.37,973.79 L921.76,973.84 L923.14,973.89 L924.53,973.93 L925.92,973.98 L927.31,974.03 L928.69,974.07 L930.08,974.12 L931.47,974.16 L932.86,974.21 L934.25,974.25 L935.63,974.30 L937.02,974.34 L938.41,974.39 L939.80,974.43 L941.18,974.47 L942.57,974.52 L943.96,974.56 L945.35,974.60 L946.74,974.65 L948.12,974.69 L949.51,974.73 L950.90,974.77 L952.29,974.81 L953.67,974.85 L955.06,974.90 L956.45,974.94 L957.84,974.98 L959.23,975.02 L960.61,975.06 L962.00,975.10 L963.39,975.14 L964.78,975.17 L966.17,975.21 L967.55,975.25 L968.94,975.29 L970.33,975.33 L971.72,975.37 L973.11,975.40 L974.49,975.44 L975.88,975.48 L977.27,975.52 L978.66,975.55 L980.04,975.59 L981.43,975.63 L982.82,975.66 L984.21,975.70 L985.60,975.73 L986.98,975.77 L988.37,975.80 L989.76,975.84 L991.15,975.87 L992.54,975.91 L993.92,975.94 L995.31,975.98 L996.70,976.01 L998.09,976.04 L999.48,976.08 L1000.86,976.11 L1002.25,976.14 L1003.64,976.17 L1005.03,976.21 L1006.42,976.24 L1007.81,976.27 L1009.19,976.30 L1010.58,976.33 L1011.97,976.37 L1013.36,976.40 L1014.75,976.43 L1016.13,976.46 L1017.52,976.49 L1018.91,976.52 L1020.30,976.55 L1021.69,976.58 L1023.07,976.61 L1024.46,976.64 L1025.85,976.67 L1027.24,976.70 L1028.63,976.73 L1030.02,976.75 L1031.40,976.78 L1032.79,976.81 L1034.18,976.84 L1035.57,976.87 L1036.96,976.89 L1038.34,976.92 L1039.73,976.95 L1041.12,976.98 L1042.51,977.00 L1043.90,977.03 L1045.28,977.06 L1046.67,977.08 L1048.06,977.11 L1049.45,977.14 L1050.84,977.16 L1052.23,977.19 L1053.61,977.21 L1055.00,977.24 L1056.39,977.26 L1057.78,977.29 L1059.17,977.31 L1060.56,977.34 L1061.94,977.36 L1063.33,977.39 L1064.72,977.41 L1066.11,977.44 L1067.50,977.46 L1068.88,977.48 L1070.27,977.51 L1071.66,977.53 L1073.05,977.55 L1074.44,977.58 L1075.83,977.60 L1077.21,977.62 L1078.60,977.64 L1079.99,977.67 L1081.38,977.69 L1082.77,977.71 L1084.16,977.73 L1085.54,977.75 L1086.93,977.78 L1088.32,977.80 L1089.71,977.82 L1091.10,977.84 L1092.49,977.86 L1093.87,977.88 L1095.26,977.90 L1096.65,977.92 L1098.04,977.95 L1099.43,977.97 L1100.81,977.99 L1102.20,978.01 L1103.59,978.03 L1104.98,978.05 L1106.37,978.07 L1107.76,978.09 L1109.14,978.10 L1110.53,978.12 L1111.92,978.14 L1113.31,978.16 L1114.70,978.18 L1116.09,978.20 L1117.47,978.22 L1118.86,978.24 L1120.25,978.26 L1121.64,978.27 L1123.03,978.29 L1124.42,978.31 L1125.80,978.33 L1127.19,978.35 L1128.58,978.37 L1129.97,978.38 L1131.36,978.40 L1132.75,978.42 L1134.13,978.44 L1135.52,978.45 L1136.91,978.47 L1138.30,978.49 L1139.69,978.50 L1141.08,978.52 L1142.46,978.54 L1143.85,978.55 L1145.24,978.57 L1146.63,978.59 L1148.02,978.60 L1149.41,978.62 L1150.79,978.64 L1152.18,978.65 L1153.57,978.67 L1154.96,978.68 L1156.35,978.70 L1157.74,978.72 L1159.12,978.73 L1160.51,978.75 L1161.90,978.76 L1163.29,978.78 L1164.68,978.79 L1166.07,978.81 L1167.45,978.82 L1168.84,978.84 L1170.23,978.86 L1171.62,978.87 L1173.01,978.88 L1174.40,978.90 L1175.78,978.91 L1177.17,978.93 L1178.56,978.94 L1179.95,978.96 L1181.34,978.97 L1182.73,978.99 L1184.12,979.00 L1185.50,979.02 L1186.89,979.03 L1188.28,979.04 L1189.67,979.06 L1191.06,979.07 L1192.45,979.09 L1193.83,979.10 L1195.22,979.11 L1196.61,979.13 L1198.00,979.14 L1199.39,979.16 L1200.78,979.17 L1202.16,979.18 L1203.55,979.20 L1204.94,979.21 L1206.33,979.22 L1207.72,979.24 L1209.11,979.25 L1210.49,979.26 L1211.88,979.28 L1213.27,979.29 L1214.66,979.30 L1216.05,979.32 L1217.44,979.33 L1218.82,979.34 L1220.21,979.36 L1221.60,979.37 L1222.99,979.38 L1224.38,979.40 L1225.77,979.41 L1227.15,979.42 L1228.54,979.44 L1229.93,979.45 L1231.32,979.46 L1232.71,979.47 L1234.10,979.49 L1235.49,979.50 L1236.87,979.51 L1238.26,979.53 L1239.65,979.54 L1241.04,979.55 L1242.43,979.56 L1243.82,979.58 L1245.20,979.59 L1246.59,979.60 L1247.98,979.62 L1249.37,979.63 L1250.76,979.64 L1252.15,979.65 L1253.53,979.67 L1254.92,979.68 L1256.31,979.69 L1257.70,979.71 L1259.09,979.72 L1260.48,979.73 L1261.86,979.74 L1263.25,979.76 L1264.64,979.77 L1266.03,979.78 L1267.42,979.79 L1268.81,979.81 L1270.19,979.82 L1271.58,979.83 L1272.97,979.85 L1274.36,979.86 L1275.75,979.87 L1277.14,979.88 L1278.52,979.90 L1279.91,979.91 L1281.30,979.92 L1282.69,979.94 L1284.08,979.95 L1285.47,979.96 L1286.86,979.97 L1288.24,979.99 L1289.63,980.00 L1291.02,980.01 L1292.41,980.03 L1293.80,980.04 L1295.19,980.05 L1296.57,980.07 L1297.96,980.08 L1299.35,980.09 L1300.74,980.11 L1302.13,980.12 L1303.52,980.13 L1304.90,980.15 L1306.29,980.16 L1307.68,980.17 L1309.07,980.19 L1310.46,980.20 L1311.85,980.21 L1313.23,980.23 L1314.62,980.24 L1316.01,980.26 L1317.40,980.27 L1318.79,980.28 L1320.18,980.30 L1321.56,980.31 L1322.95,980.33 L1324.34,980.34 L1325.73,980.35 L1327.12,980.37 L1328.51,980.38 L1329.89,980.40 L1331.28,980.41 L1332.67,980.43 L1334.06,980.44 L1335.45,980.45 L1336.84,980.47 L1338.23,980.48 L1339.61,980.50 L1341.00,980.51 L1342.39,980.53 L1343.78,980.54 L1345.17,980.56 L1346.56,980.57 L1347.94,980.59 L1349.33,980.61 L1350.72,980.62 L1352.11,980.64 L1353.50,980.65 L1354.89,980.67 L1356.27,980.68 L1357.66,980.70 L1359.05,980.71 L1360.44,980.73 L1361.83,980.75 L1363.22,980.76 L1364.60,980.78 L1365.99,980.80 L1367.38,980.81 L1368.77,980.83 L1370.16,980.85 L1371.55,980.86 L1372.93,980.88 L1374.32,980.90 L1375.71,980.91 L1377.10,980.93 L1378.49,980.95 L1379.88,980.96 L1381.26,980.98 L1382.65,981.00 L1384.04,981.02 L1385.43,981.04 L1386.82,981.05 L1388.21,981.07 L1389.59,981.09 L1390.98,981.11 L1392.37,981.13 L1393.76,981.14 L1395.15,981.16 L1396.54,981.18 L1397.92,981.20 L1399.31,981.22 L1400.70,981.24 L1402.09,981.26 L1403.48,981.28 L1404.87,981.30 L1406.25,981.32 L1407.64,981.34 L1409.03,981.36 L1410.42,981.38 L1411.81,981.40 L1413.20,981.42 L1414.58,981.44 L1415.97,981.46 L1417.36,981.48 L1418.75,981.50 L1420.14,981.52 L1421.52,981.54 L1422.91,981.56 L1424.30,981.58 L1425.69,981.60 L1427.08,981.63 L1428.47,981.65 L1429.85,981.67 L1431.24,981.69 L1432.63,981.71 L1434.02,981.74 L1435.41,981.76 L1436.80,981.78 L1438.18,981.80 L1439.57,981.83 L1440.96,981.85 L1442.35,981.87 L1443.74,981.90 L1445.13,981.92 L1446.51,981.94 L1447.90,981.97 L1449.29,981.99 L1450.68,982.02 L1452.07,982.04 L1453.45,982.06 L1454.84,982.09 L1456.23,982.11 L1457.62,982.14 L1459.01,982.16 L1460.40,982.19 L1461.78,982.21 L1463.17,982.24 L1464.56,982.27 L1465.95,982.29 L1467.34,982.32 L1468.73,982.35 L1470.11,982.37 L1471.50,982.40 L1472.89,982.43 L1474.28,982.45 L1475.67,982.48 L1477.05,982.51 L1478.44,982.53 L1479.83,982.56 L1481.22,982.59 L1482.61,982.62 L1483.99,982.65 L1485.38,982.68 L1486.77,982.71 L1488.16,982.73 L1489.55,982.76 L1490.94,982.79 L1492.32,982.82 L1493.71,982.85 L1495.10,982.88 L1496.50,982.88" stroke="#7E2F8E" stroke-dasharray="8.0 7.024"/>
</g>
<rect x="669.3" y="86.3" width="794.2" height="133.3" fill="#fff" stroke="#4a4a4a" stroke-width="2.2"/>
<g fill="none" stroke-width="8.15">
<path d="M680,122 H797" stroke="#0072BD"/>
<path d="M680,185.8 H797" stroke="#D95319" stroke-dasharray="30.80 7.85 14.99 7.85"/>
<path d="M1110.8,122 H1226" stroke="#EDB120" stroke-dasharray="30.72 30.72"/>
<path d="M1110.8,185.8 H1226" stroke="#7E2F8E" stroke-dasharray="8.06 7.11"/>
</g>
<g font-size="50" fill="#000" letter-spacing="-0.3">
<text x="807" y="143.2">tenecteplase</text>
<text x="807" y="205.1">reteplase</text>
<text x="1237.2" y="143.6">alteplase</text>
<text x="1237.2" y="205.5">urokinase</text>
</g>
<g font-size="56.10" fill="#262626" text-anchor="middle">
<text transform="translate(169.70,1148.9) scale(0.98,1)">0</text>
<text transform="translate(501.10,1148.9) scale(0.98,1)">50</text>
<text transform="translate(833.70,1148.9) scale(0.98,1)">100</text>
<text transform="translate(1164.20,1148.9) scale(0.98,1)">150</text>
<text transform="translate(1495.60,1148.9) scale(0.98,1)">200</text>
</g>
<g font-size="56.10" fill="#262626" text-anchor="end">
<text transform="translate(149.5,1096.30) scale(0.98,1)">3</text>
<text transform="translate(149.5,890.70) scale(0.98,1)">4</text>
<text transform="translate(149.5,688.40) scale(0.98,1)">5</text>
<text transform="translate(149.5,483.60) scale(0.98,1)">6</text>
<text transform="translate(149.5,280.70) scale(0.98,1)">7</text>
<text transform="translate(149.5,75.20) scale(0.98,1)">8</text>
</g>
<text x="832.6" y="1227.5" font-size="60.5" fill="#262626" text-anchor="middle" letter-spacing="0.22">Time [min]</text>
<text transform="translate(66.8,746.5) rotate(-90)" fill="#262626" font-size="60.5"><tspan x="-2.6" y="0" font-size="62.92" textLength="43.69" lengthAdjust="spacingAndGlyphs">C</tspan><tspan x="42.0" y="30" font-size="52.31" letter-spacing="-1.0" textLength="113.52" lengthAdjust="spacingAndGlyphs">FBG,</tspan><tspan x="154.6" y="30" font-size="49.5">sys</tspan><tspan x="227.89" y="0" font-size="60.5"> [</tspan><tspan x="264.6" y="0" font-size="59" textLength="33.47" lengthAdjust="spacingAndGlyphs" style="font-family:'Liberation Serif','DejaVu Serif',serif;font-style:italic">μ</tspan><tspan x="299.0" y="0" font-size="62.92" textLength="50.39" lengthAdjust="spacingAndGlyphs">M</tspan><tspan x="351.9" y="0" font-size="60.5">]</tspan></text>
</svg>
</div>
</body>
</html>
